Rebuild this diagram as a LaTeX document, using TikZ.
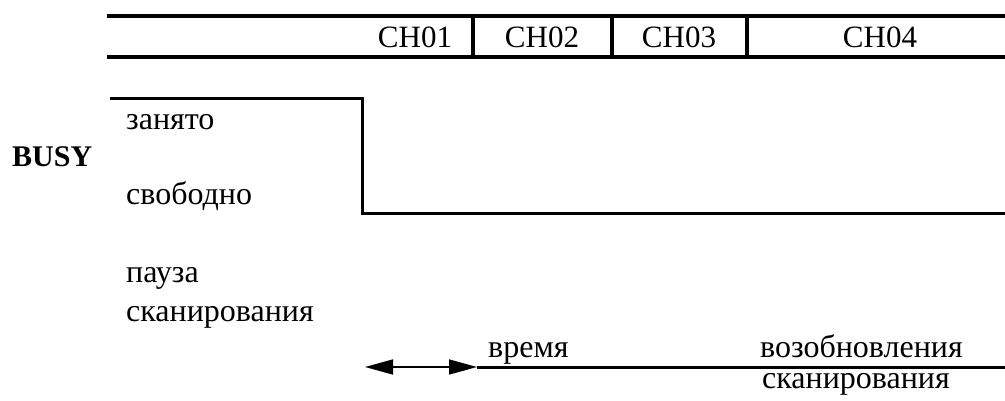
\documentclass[tikz,border=0pt]{standalone}
\usepackage{fontspec}
\setmainfont{Liberation Serif}
\usetikzlibrary{
    arrows.meta,
    positioning
}

\begin{document}
\begin{tikzpicture}[x=1pt, y=-1pt,
    lbl/.style={anchor=base west, inner sep=0pt, font=\fontsize{32}{38}\selectfont},
    chlbl/.style={anchor=base, inner sep=0pt, font=\fontsize{31}{36}\selectfont},
    tbl/.style={line width=3.5pt},
    sig/.style={line width=3pt, line join=miter}]
    \useasboundingbox (0,0) rectangle (1005,401);
    % channel table
    \draw[tbl]
    (107,16) -- (1005,16)
    (107,57) -- (1005,57)
    (473,16) -- (473,57)
    (612,16) -- (612,57)
    (747,16) -- (747,57);
    \node[chlbl] (ch01) at (415,48) {CH01};
    \node[chlbl] (ch02) at (542,48) {CH02};
    \node[chlbl] (ch03) at (679,48) {CH03};
    \node[chlbl] (ch04) at (880,48) {CH04};
    % busy signal
    \draw[sig] (110,99) -- (362,99) -- (362,214) -- (1005,214);
    \node[lbl, font=\fontsize{30}{36}\selectfont\bfseries] (busy) at (12,167) {BUSY};
    \node[lbl] (busyon) at (126,130) {занято};
    \node[lbl] (busyoff) at (126,205) {свободно};
    \node[lbl] (pause) at (126,283) {пауза};
    \node[lbl] (pausescan) at (126,321) {сканирования};
    % pause time
    \coordinate (tstart) at (365,367);
    \coordinate (tend) at (477,367);
    \coordinate (tright) at (1005,367);
    \draw[line width=1.5pt, {Triangle[length=28pt,width=15pt]}-{Triangle[length=28pt,width=15pt]}] (tstart) -- (tend);
    \draw[sig] (tend) -- (tright);
    \node[lbl] (ttime) at (488,357) {время};
    \node[lbl] (tresume) at (760,357) {возобновления};
    \node[lbl] (tscan) at (762,388) {сканирования};
\end{tikzpicture}
\end{document}
